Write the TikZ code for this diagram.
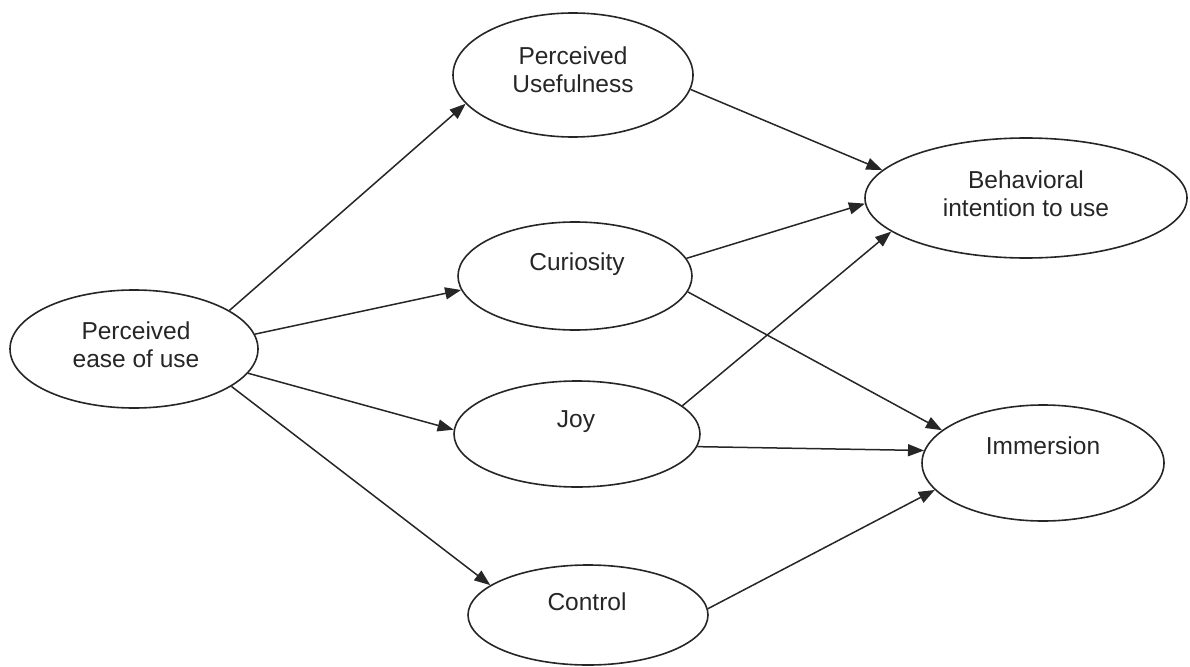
\documentclass[tikz,border=0pt]{standalone}
\usepackage{fontspec}
\setmainfont{Liberation Sans}
\usetikzlibrary{arrows.meta,shapes.geometric}
\begin{document}
\begin{tikzpicture}[x=1pt,y=-1pt,
  ell/.style={draw=black!85, ellipse, line width=1.6pt, inner sep=0pt},
  lbl/.style={font=\fontsize{24.5}{28}\selectfont, align=center, inner sep=0pt, text=black!85},
  link/.style={-{Triangle[length=16pt,width=12pt]}, line width=1.5pt, draw=black!85}]
\useasboundingbox (0,0) rectangle (1190,666);
% ellipses
\node[ell, minimum width=248pt, minimum height=118pt] (peou) at (134,349) {};
\node[ell, minimum width=240pt, minimum height=124pt] (pu) at (573,75) {};
\node[ell, minimum width=234pt, minimum height=108pt] (cur) at (575,276) {};
\node[ell, minimum width=246pt, minimum height=106pt] (joy) at (577,434) {};
\node[ell, minimum width=240pt, minimum height=100pt] (ctl) at (588,615) {};
\node[ell, minimum width=322pt, minimum height=120pt] (bi) at (1026,198) {};
\node[ell, minimum width=242pt, minimum height=116pt] (imm) at (1043,463) {};
% texts
\node[lbl] (tpeou) at (136,344.5) {Perceived\\ease of use};
\node[lbl] (tpu) at (573,70) {Perceived\\Usefulness};
\node[lbl] (tcur) at (577,264) {Curiosity};
\node[lbl] (tjoy) at (576,421.5) {Joy};
\node[lbl] (tctl) at (587,602) {Control};
\node[lbl] (tbi) at (1026,194) {Behavioral\\intention to use};
\node[lbl] (timm) at (1043,446) {Immersion};
% connectors
\draw[link] (peou.22.1) -- (pu.195.4);
\draw[link] (peou.7.4) -- (cur.187.3);
\draw[link] (peou.348.6) -- (joy.178.1);
\draw[link] (peou.339.4) -- (ctl.163.6);
\draw[link] (pu.353) -- (bi.169.8);
\draw[link] (cur.9.1) -- (bi.182.5);
\draw[link] (cur.352.7) -- (imm.162.6);
\draw[link] (joy.15.7) -- (bi.194.9);
\draw[link] (joy.354.3) -- (imm.174.9);
\draw[link] (ctl.3.8) -- (imm.194.7);
\end{tikzpicture}
\end{document}
